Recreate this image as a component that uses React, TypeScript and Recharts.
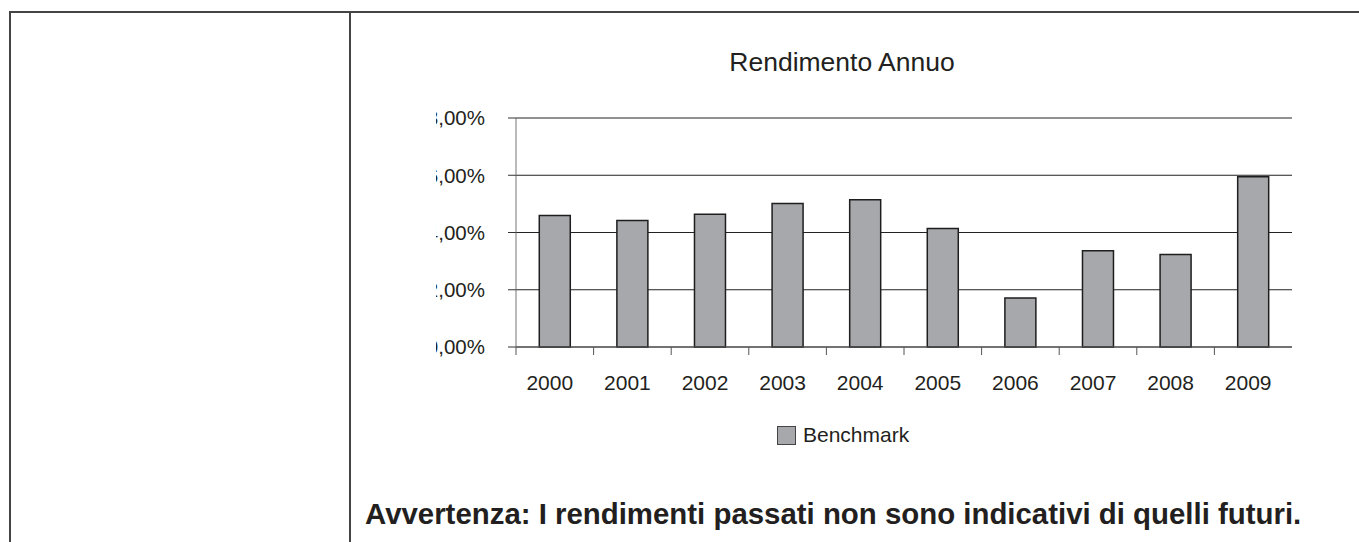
import { BarChart, Bar, XAxis, YAxis, CartesianGrid, Legend } from 'recharts';

const anni = ['2000', '2001', '2002', '2003', '2004', '2005', '2006', '2007', '2008', '2009'];
const benchmark = [4.59, 4.42, 4.64, 5.01, 5.14, 4.14, 1.71, 3.36, 3.23, 5.95];
const yTicks = [0, 2, 4, 6, 8];

const titolo = 'Rendimento Annuo';
const nomeSerie = 'Benchmark';
const avvertenza = 'Avvertenza: I rendimenti passati non sono indicativi di quelli futuri.';

const data = anni.map((anno, i) => ({ anno, benchmark: benchmark[i] }));

// geometria (coordinate del grafico)
const CHART_LEFT = 357; // posizione pagina dell'origine del grafico
const CLIP_LEFT = 436; // l'originale taglia le etichette dell'asse Y
const CHART_W = 1002;
const CHART_H = 542;
const AXIS_W = 159;
const PLOT_TOP = 118;
const PLOT_BOTTOM = 347;
const PLOT_RIGHT_MARGIN = 67;
const BAND = (CHART_W - AXIS_W - PLOT_RIGHT_MARGIN) / anni.length;

const FONT = '"Liberation Sans", Arial, Helvetica, sans-serif';
const INK = '#231f20';

const fmtPct = (v: number) => `${v.toFixed(2).replace('.', ',')}%`;

function TickAnno(props: any) {
  const { x, payload } = props;
  const bx = x - BAND / 2;
  return (
    <g>
      <line x1={bx} x2={bx} y1={PLOT_BOTTOM} y2={PLOT_BOTTOM + 8} stroke="#555" strokeWidth={1} />
      <text
        x={x - 5}
        y={PLOT_BOTTOM + 28}
        dy="0.71em"
        textAnchor="middle"
        fill={INK}
        fontSize={21}
        fontFamily={FONT}
      >
        {payload.value}
      </text>
    </g>
  );
}

function Legenda() {
  return (
    <div style={{ display: 'flex', alignItems: 'center', fontFamily: FONT, fontSize: 21, color: INK }}>
      <span
        style={{
          display: 'inline-block',
          width: 17,
          height: 17,
          background: '#a7a8ab',
          border: '1px solid #444',
          marginRight: 7,
        }}
      />
      {nomeSerie}
    </div>
  );
}

export default function App() {
  return (
    <div
      style={{
        position: 'absolute',
        left: 0,
        top: 0,
        width: 1359,
        height: 542,
        background: '#fff',
        overflow: 'hidden',
        fontFamily: FONT,
      }}
    >
      {/* cornice tabella */}
      <div style={{ position: 'absolute', left: 9, top: 11, width: 1350, height: 2, background: '#444' }} />
      <div style={{ position: 'absolute', left: 9, top: 11, width: 1.5, height: 531, background: '#444' }} />
      <div style={{ position: 'absolute', left: 349, top: 11, width: 1.5, height: 531, background: '#444' }} />

      <div
        style={{
          position: 'absolute',
          left: 842,
          top: 49,
          transform: 'translateX(-50%)',
          fontSize: 26.5,
          lineHeight: 1,
          color: INK,
          whiteSpace: 'nowrap',
        }}
      >
        {titolo}
      </div>

      {/* area grafico tagliata a sinistra come nell'originale */}
      <div
        style={{
          position: 'absolute',
          left: CLIP_LEFT,
          top: 0,
          width: 1359 - CLIP_LEFT,
          height: 542,
          overflow: 'hidden',
        }}
      >
        <div style={{ position: 'absolute', left: CHART_LEFT - CLIP_LEFT, top: 0 }}>
          <BarChart
            width={CHART_W}
            height={CHART_H}
            data={data}
            margin={{ top: PLOT_TOP, right: PLOT_RIGHT_MARGIN, left: 0, bottom: 0 }}
            barCategoryGap="30%"
          >
            <CartesianGrid vertical={false} stroke="#222" strokeWidth={1} />
            <XAxis
              dataKey="anno"
              height={CHART_H - PLOT_BOTTOM}
              tickLine={false}
              axisLine={{ stroke: '#555' }}
              tick={<TickAnno />}
              interval={0}
            />
            <YAxis
              width={AXIS_W}
              domain={[0, 8]}
              ticks={yTicks}
              tickFormatter={fmtPct}
              tickSize={8}
              tickMargin={23}
              axisLine={{ stroke: '#777' }}
              tickLine={{ stroke: '#333' }}
              tick={{ fill: INK, fontSize: 20.5, fontFamily: FONT }}
            />
            <Legend
              layout="vertical"
              align="center"
              verticalAlign="middle"
              content={<Legenda />}
              wrapperStyle={{ position: 'absolute', left: 777 - CHART_LEFT, top: 423, width: 'auto' }}
            />
            <Bar
              dataKey="benchmark"
              name={nomeSerie}
              fill="#a7a8ab"
              stroke="#1e1e1e"
              strokeWidth={1.5}
              isAnimationActive={false}
            />
          </BarChart>
        </div>
      </div>

      <div
        style={{
          position: 'absolute',
          left: 365,
          top: 499,
          fontSize: 29.4,
          lineHeight: 1,
          fontWeight: 'bold',
          color: INK,
          whiteSpace: 'nowrap',
        }}
      >
        {avvertenza}
      </div>
    </div>
  );
}
